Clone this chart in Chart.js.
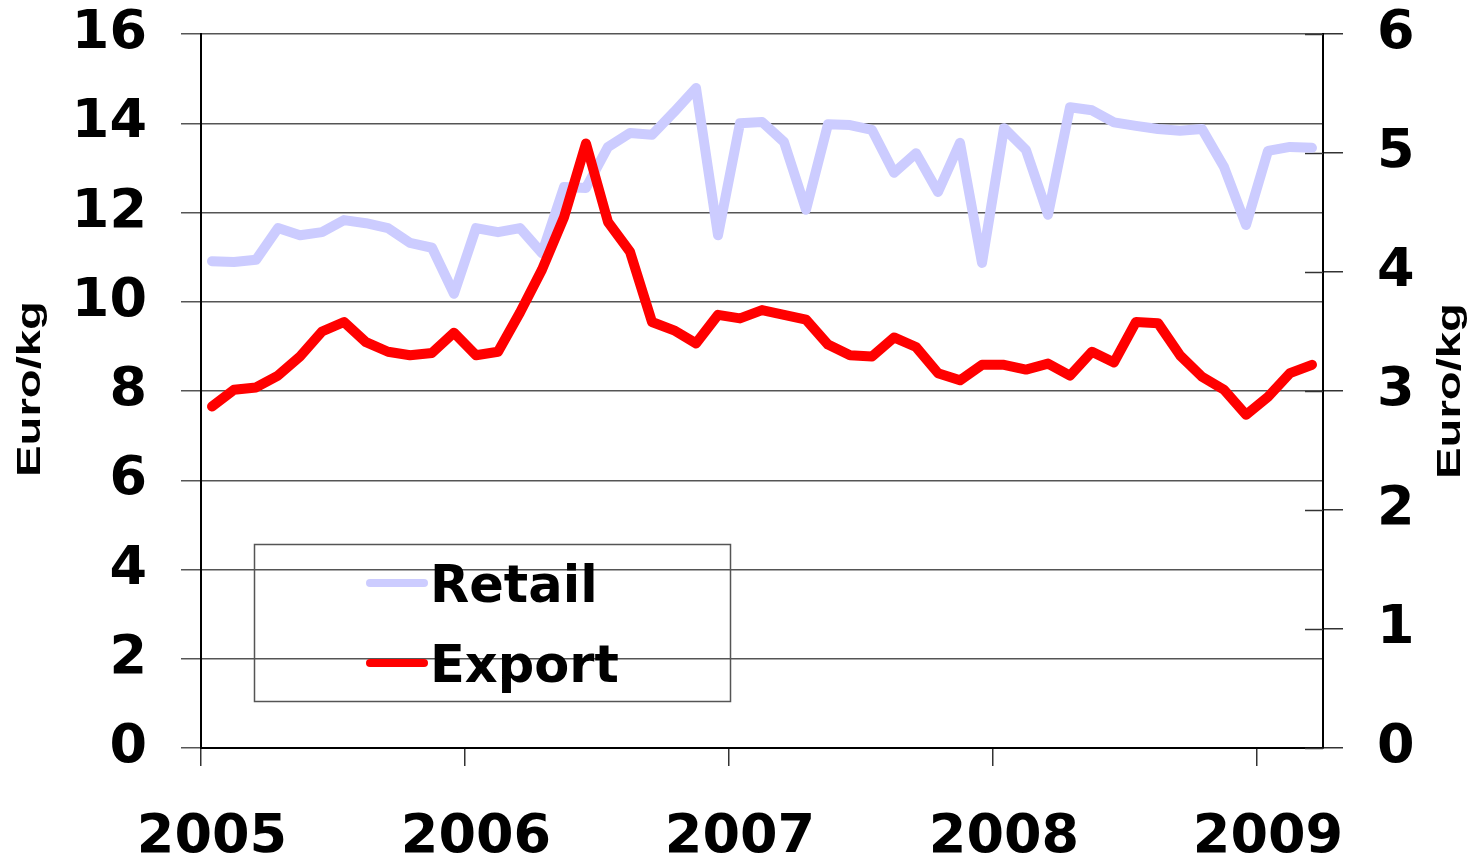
<!DOCTYPE html>
<html><head><meta charset="utf-8">
<script src="https://cdn.jsdelivr.net/npm/chart.js@4.4.0/dist/chart.umd.min.js"></script>
<style>html,body{margin:0;padding:0;background:#fff;}#wrap{width:1473px;height:862px;}</style>
</head><body><div id="wrap"><canvas id="c" width="1473" height="862"></canvas></div>
<script>
// ---- data ----
const years = ['2005', '2006', '2007', '2008', '2009'];
const yearTickMonths = [0, 12, 24, 36, 48];
const monthCount = 51; // Jan 2005 .. Mar 2009
const seriesNames = ['Retail', 'Export'];
const axisTitle = 'Euro/kg';
const retail = [10.91, 10.89, 10.94, 11.65, 11.49, 11.56, 11.83, 11.76, 11.65, 11.32, 11.21, 10.18,
  11.65, 11.56, 11.65, 11.09, 12.57, 12.55, 13.47, 13.78, 13.74, 14.25, 14.79, 11.49,
  14.00, 14.03, 13.58, 12.06, 13.98, 13.96, 13.85, 12.89, 13.33, 12.46, 13.56, 10.87,
  13.89, 13.40, 11.95, 14.36, 14.29, 14.02, 13.94, 13.87, 13.83, 13.87, 13.02, 11.72,
  13.38, 13.47, 13.45];
const exportPrice = [2.87, 3.01, 3.03, 3.13, 3.29, 3.50, 3.58, 3.41, 3.33, 3.30, 3.32, 3.49,
  3.30, 3.33, 3.66, 4.02, 4.46, 5.08, 4.42, 4.17, 3.58, 3.51, 3.40, 3.64,
  3.61, 3.68, 3.64, 3.60, 3.39, 3.30, 3.29, 3.45, 3.37, 3.15, 3.09, 3.22,
  3.22, 3.18, 3.23, 3.13, 3.33, 3.24, 3.58, 3.57, 3.30, 3.12, 3.01, 2.80,
  2.95, 3.15, 3.22];
const leftAxisMax = 16, leftStep = 2;
const rightAxisMax = 6, rightStep = 1;

// ---- styles ----
const retailColor = '#CCCCFF';
const exportColor = '#FF0000';
const gridColor = '#555555';
const tickFont = {family: 'DejaVu Sans', weight: 'bold', size: 54};

const toPoints = arr => arr.map((v, i) => ({x: i + 0.5, y: v}));

const decor = {
  id: 'decor',
  beforeDatasetsDraw(chart) {
    const ctx = chart.ctx, ca = chart.chartArea, s = chart.scales.y2;
    ctx.save();
    ctx.strokeStyle = '#333';
    ctx.lineWidth = 1.5;
    s.ticks.forEach(t => {
      const y = Math.round(s.getPixelForValue(t.value)) + 0.5;
      ctx.beginPath();
      ctx.moveTo(ca.right - 18, y);
      ctx.lineTo(ca.right, y);
      ctx.stroke();
    });
    ctx.restore();
  },
  afterDraw(chart) {
    const ctx = chart.ctx, ca = chart.chartArea;
    ctx.save();
    const drawTitle = (cx, cy) => {
      ctx.save();
      ctx.translate(cx, cy);
      ctx.rotate(-Math.PI / 2);
      ctx.font = 'bold 34px "Liberation Sans"';
      const w = ctx.measureText(axisTitle).width;
      ctx.scale(176 / w, 1);
      ctx.fillStyle = '#000';
      ctx.textAlign = 'center';
      ctx.textBaseline = 'middle';
      ctx.fillText(axisTitle, 0, 0);
      ctx.restore();
    };
    const midY = (ca.top + ca.bottom) / 2;
    drawTitle(31, midY - 2);
    drawTitle(ca.right + 128, midY);

    // legend
    const bx = ca.left + 53, by = ca.top + 510, bw = 476, bh = 157;
    ctx.strokeStyle = '#555';
    ctx.lineWidth = 1.5;
    ctx.strokeRect(bx + 0.5, by + 0.5, bw, bh);
    const items = [
      {label: seriesNames[0], color: retailColor, y: by + 39},
      {label: seriesNames[1], color: exportColor, y: by + 119}
    ];
    ctx.font = 'bold 51px "DejaVu Sans"';
    ctx.textAlign = 'left';
    ctx.textBaseline = 'alphabetic';
    items.forEach(it => {
      ctx.strokeStyle = it.color;
      ctx.lineWidth = 8;
      ctx.lineCap = 'round';
      ctx.beginPath();
      ctx.moveTo(bx + 116, it.y);
      ctx.lineTo(bx + 170, it.y);
      ctx.stroke();
      ctx.fillStyle = '#000';
      ctx.fillText(it.label, bx + 176, it.y + 19);
    });
    ctx.restore();
  }
};

const fixVertical = w => s => { s.width = w; s.paddingTop = 0; s.paddingBottom = 0; };

new Chart(document.getElementById('c'), {
  type: 'line',
  data: {
    datasets: [
      {label: seriesNames[0], data: toPoints(retail), yAxisID: 'y', borderColor: retailColor,
       borderWidth: 10, pointRadius: 0, tension: 0, borderJoinStyle: 'round', borderCapStyle: 'round', order: 2},
      {label: seriesNames[1], data: toPoints(exportPrice), yAxisID: 'y2', borderColor: exportColor,
       borderWidth: 10, pointRadius: 0, tension: 0, borderJoinStyle: 'round', borderCapStyle: 'round', order: 1}
    ]
  },
  options: {
    responsive: false,
    devicePixelRatio: 1,
    animation: false,
    layout: {padding: {top: 34, left: 0, right: 0, bottom: 0}},
    plugins: {legend: {display: false}, tooltip: {enabled: false}},
    scales: {
      x: {
        type: 'linear', position: 'bottom', min: 0, max: monthCount,
        afterBuildTicks: s => { s.ticks = yearTickMonths.map(v => ({value: v})); },
        afterFit: s => { s.height = 114; s.paddingLeft = 0; s.paddingRight = 0; },
        ticks: {
          callback: v => years[yearTickMonths.indexOf(v)],
          font: {family: 'DejaVu Sans', weight: 'bold', size: 54},
          color: '#000', labelOffset: 11, padding: 40, maxRotation: 0, autoSkip: false
        },
        grid: {drawOnChartArea: false, drawTicks: true, tickLength: 18, color: '#333', lineWidth: 1.5},
        border: {display: true, color: '#000', width: 2}
      },
      y: {
        type: 'linear', position: 'left', min: 0, max: leftAxisMax,
        afterFit: fixVertical(201),
        ticks: {stepSize: leftStep, font: tickFont, color: '#000', padding: 34},
        grid: {color: gridColor, lineWidth: 1.5, tickLength: 20},
        border: {display: true, color: '#000', width: 2}
      },
      y2: {
        type: 'linear', position: 'right', min: 0, max: rightAxisMax,
        afterFit: fixVertical(150),
        ticks: {stepSize: rightStep, font: tickFont, color: '#000', padding: 34},
        grid: {drawOnChartArea: false, color: '#333', lineWidth: 1.5, tickLength: 20},
        border: {display: true, color: '#000', width: 2}
      }
    }
  },
  plugins: [decor]
});
</script>
</body></html>
